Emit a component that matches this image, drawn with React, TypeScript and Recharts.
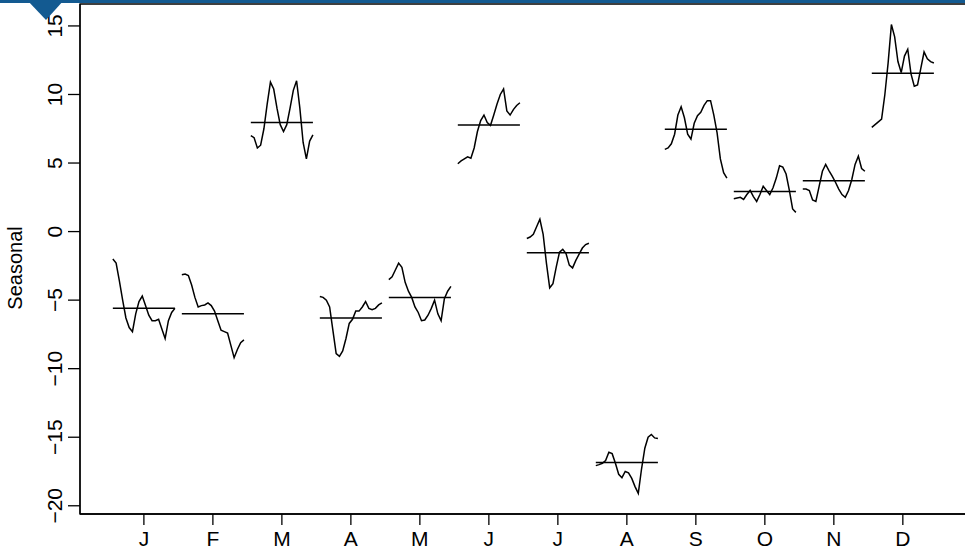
import React from 'react';
import { LineChart, Line, XAxis, YAxis, ReferenceArea } from 'recharts';

const monthLabels = ['J', 'F', 'M', 'A', 'M', 'J', 'J', 'A', 'S', 'O', 'N', 'D'];
const yTicks = [-20, -15, -10, -5, 0, 5, 10, 15];

const janValues = [-2.0, -2.3, -3.6, -5.0, -6.3, -7.0, -7.3, -6.0, -5.1, -4.7, -5.4, -6.1, -6.5, -6.5, -6.4, -7.1, -7.8, -6.5, -5.9, -5.6];
const febValues = [-3.15, -3.1, -3.2, -3.9, -4.8, -5.5, -5.4, -5.35, -5.2, -5.4, -5.8, -6.5, -7.2, -7.3, -7.4, -8.3, -9.2, -8.6, -8.1, -7.9];
const marValues = [7.0, 6.85, 6.1, 6.3, 7.5, 9.3, 10.9, 10.4, 9.0, 7.8, 7.3, 7.8, 9.0, 10.3, 11.0, 9.0, 6.5, 5.3, 6.6, 7.05];
const aprValues = [-4.74, -4.8, -5.0, -5.5, -7.2, -8.9, -9.1, -8.7, -7.8, -6.7, -6.4, -5.8, -5.8, -5.5, -5.1, -5.6, -5.7, -5.6, -5.35, -5.2];
const mayValues = [-3.5, -3.3, -2.8, -2.3, -2.6, -3.7, -4.35, -4.8, -5.5, -5.9, -6.5, -6.45, -6.1, -5.6, -5.0, -6.0, -6.5, -4.9, -4.35, -4.0];
const junValues = [4.95, 5.15, 5.3, 5.45, 5.35, 6.1, 7.3, 8.1, 8.5, 7.95, 7.75, 8.5, 9.3, 10.0, 10.4, 8.8, 8.5, 8.9, 9.2, 9.4];
const julValues = [-0.5, -0.4, -0.2, 0.35, 0.9, -0.2, -2.3, -4.1, -3.8, -2.6, -1.5, -1.3, -1.6, -2.45, -2.65, -2.1, -1.65, -1.2, -0.95, -0.85];
const augValues = [-17.07, -17.0, -16.9, -16.7, -16.1, -16.2, -16.9, -17.7, -17.95, -17.5, -17.6, -18.0, -18.6, -19.1, -17.3, -15.8, -15.0, -14.8, -15.05, -15.1];
const sepValues = [6.0, 6.1, 6.4, 7.1, 8.5, 9.1, 8.3, 7.1, 6.75, 7.9, 8.45, 8.7, 9.2, 9.55, 9.55, 8.5, 7.2, 5.3, 4.3, 3.9];
const octValues = [2.4, 2.45, 2.5, 2.35, 2.7, 3.0, 2.55, 2.2, 2.7, 3.3, 3.0, 2.7, 3.2, 3.9, 4.8, 4.7, 4.2, 3.0, 1.65, 1.4];
const novValues = [3.1, 3.1, 3.0, 2.3, 2.2, 3.3, 4.4, 4.9, 4.45, 4.05, 3.6, 3.1, 2.7, 2.5, 3.0, 3.8, 4.9, 5.5, 4.6, 4.4];
const decValues = [7.6, 7.8, 8.0, 8.2, 10.0, 12.3, 15.1, 14.2, 12.4, 11.6, 12.8, 13.3, 11.5, 10.6, 10.7, 11.9, 13.1, 12.6, 12.4, 12.3];

const monthMeans = [-5.6, -6.0, 7.95, -6.3, -4.8, 7.78, -1.55, -16.85, 7.47, 2.92, 3.7, 11.55];

const allMonths = [janValues, febValues, marValues, aprValues, mayValues, junValues, julValues, augValues, sepValues, octValues, novValues, decValues];

const subSeries = allMonths.map((vals, i) =>
  vals.map((v, k) => ({ x: i + 1 - 0.45 + (0.9 * k) / (vals.length - 1), y: v }))
);
const meanSeries = monthMeans.map((m, i) => [
  { x: i + 1 - 0.45, y: m },
  { x: i + 1 + 0.45, y: m },
]);

const X_DOMAIN: [number, number] = [0.074, 12.93];
const Y_DOMAIN: [number, number] = [-20.6, 16.6];
const FONT = 'Liberation Sans, Arial, Helvetica, sans-serif';
const FS = 21;

const fmt = (v: number) => String(v).replace('-', '\u2212');

const YTick = (props: any) => {
  const { y, payload } = props;
  const x = 62;
  return (
    <text
      x={x}
      y={y}
      transform={`rotate(-90 ${x} ${y})`}
      textAnchor="middle"
      fontSize={FS}
      fontFamily={FONT}
      fill="#000"
    >
      {fmt(payload.value)}
    </text>
  );
};

export default function App() {
  return (
    <div style={{ position: 'absolute', left: 0, top: 0, width: 965, height: 550, background: '#fff', overflow: 'hidden' }}>
      <LineChart width={965} height={550} margin={{ top: 4, right: -2, bottom: 0, left: 0 }}>
        <XAxis
          type="number"
          dataKey="x"
          domain={X_DOMAIN}
          allowDataOverflow
          ticks={[1, 2, 3, 4, 5, 6, 7, 8, 9, 10, 11, 12]}
          interval={0}
          tickFormatter={(v: number) => monthLabels[v - 1]}
          height={36}
          tickSize={11}
          tickMargin={6}
          axisLine={{ stroke: '#000', strokeWidth: 1.3 }}
          tickLine={{ stroke: '#000', strokeWidth: 1.3 }}
          tick={{ fill: '#000', fontSize: FS, fontFamily: FONT }}
        />
        <YAxis
          type="number"
          domain={Y_DOMAIN}
          allowDataOverflow
          ticks={yTicks}
          interval={0}
          width={80}
          tickSize={12}
          axisLine={{ stroke: '#000', strokeWidth: 1.3 }}
          tickLine={{ stroke: '#000', strokeWidth: 1.3 }}
          tick={<YTick />}
          label={{
            content: () => (
              <text
                x={22}
                y={268}
                transform="rotate(-90 22 268)"
                textAnchor="middle"
                fontSize={20}
                fontFamily={FONT}
                fill="#000"
              >
                Seasonal
              </text>
            ),
          }}
        />
        <ReferenceArea
          x1={X_DOMAIN[0]}
          x2={X_DOMAIN[1]}
          y1={Y_DOMAIN[0]}
          y2={Y_DOMAIN[1]}
          fill="none"
          stroke="#000"
          strokeWidth={1.3}
          ifOverflow="visible"
        />
        {subSeries.map((d, i) => (
          <Line
            key={`s${i}`}
            data={d}
            dataKey="y"
            type="linear"
            stroke="#000"
            strokeWidth={1.5}
            dot={false}
            activeDot={false}
            isAnimationActive={false}
          />
        ))}
        {meanSeries.map((d, i) => (
          <Line
            key={`m${i}`}
            data={d}
            dataKey="y"
            type="linear"
            stroke="#000"
            strokeWidth={1.5}
            dot={false}
            activeDot={false}
            isAnimationActive={false}
          />
        ))}
      </LineChart>
      <svg width={965} height={25} style={{ position: 'absolute', left: 0, top: 0 }}>
        <rect x={0} y={0} width={965} height={3} fill="#135a91" />
        <polygon points="27,0 64,0 46,20" fill="#135a91" />
      </svg>
    </div>
  );
}
